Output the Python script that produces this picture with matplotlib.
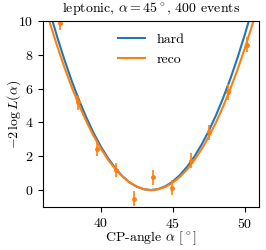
import matplotlib
matplotlib.use("Agg")
import matplotlib.pyplot as plt

plt.rcParams['font.family'] = 'serif'
plt.rcParams['font.serif'] = ['cmr10']
plt.rcParams['mathtext.fontset'] = 'cm'
plt.rcParams['axes.formatter.use_mathtext'] = True
plt.rcParams['axes.unicode_minus'] = True

curve_x = [36.0, 36.5, 37.0, 37.5, 38.0, 38.5, 39.0, 39.5, 40.0, 40.5, 41.0,
           41.5, 42.0, 42.5, 43.0, 43.5, 44.0, 44.5, 45.0, 45.5, 46.0, 46.5,
           47.0, 47.5, 48.0, 48.5, 49.0, 49.5, 50.0, 50.5, 51.0]
hard_y = [12.00, 10.45, 9.00, 7.66, 6.43, 5.31, 4.30, 3.39, 2.59, 1.90, 1.31,
          0.83, 0.46, 0.20, 0.05, 0.00, 0.06, 0.23, 0.50, 0.89, 1.38, 1.97,
          2.68, 3.49, 4.41, 5.44, 6.57, 7.82, 9.17, 10.63, 12.19]
reco_y = [11.25, 9.81, 8.46, 7.21, 6.06, 5.01, 4.07, 3.22, 2.47, 1.81, 1.26,
          0.81, 0.46, 0.21, 0.05, 0.00, 0.05, 0.19, 0.44, 0.78, 1.22, 1.77,
          2.41, 3.15, 3.99, 4.94, 5.98, 7.12, 8.36, 9.70, 11.13]

pts_x = [37.14, 38.44, 39.74, 41.04, 42.34, 43.64, 44.94, 46.24, 47.54, 48.84, 50.14]
pts_y = [9.9, 5.2, 2.42, 1.2, -0.5, 0.75, 0.15, 1.73, 3.42, 5.8, 8.6]
pts_err = [0.45, 0.45, 0.42, 0.42, 0.45, 0.45, 0.45, 0.45, 0.45, 0.45, 0.45]

fig = plt.figure(figsize=(2.66, 2.5), dpi=100)
ax = fig.add_axes([0.162, 0.172, 0.812, 0.744])

ax.plot(curve_x, hard_y, color='tab:blue', lw=1.5, label='hard')
ax.plot(curve_x, reco_y, color='tab:orange', lw=1.5, label='reco')
ax.errorbar(pts_x, pts_y, yerr=pts_err, fmt='o', color='tab:orange',
            markersize=2.5, elinewidth=1.2, capsize=0)

ax.set_xlim(36, 51)
ax.set_ylim(-1, 10)
ax.set_xticks([40, 45, 50])
ax.set_yticks([0, 2, 4, 6, 8, 10])
ax.tick_params(labelsize=10)
ax.set_title(r'leptonic, $\alpha = 45^\circ$, 400 events', fontsize=10)
ax.set_xlabel(r'CP-angle $\alpha$ [$^\circ$]', fontsize=10)
ax.set_ylabel(r'$-2\,\log L(\alpha)$', fontsize=10)
ax.xaxis.set_label_coords(0.5, -0.12)
ax.yaxis.set_label_coords(-0.095, 0.5)
ax.legend(loc='upper center', frameon=False, fontsize=10)

fig.savefig('out.png', dpi=100)
